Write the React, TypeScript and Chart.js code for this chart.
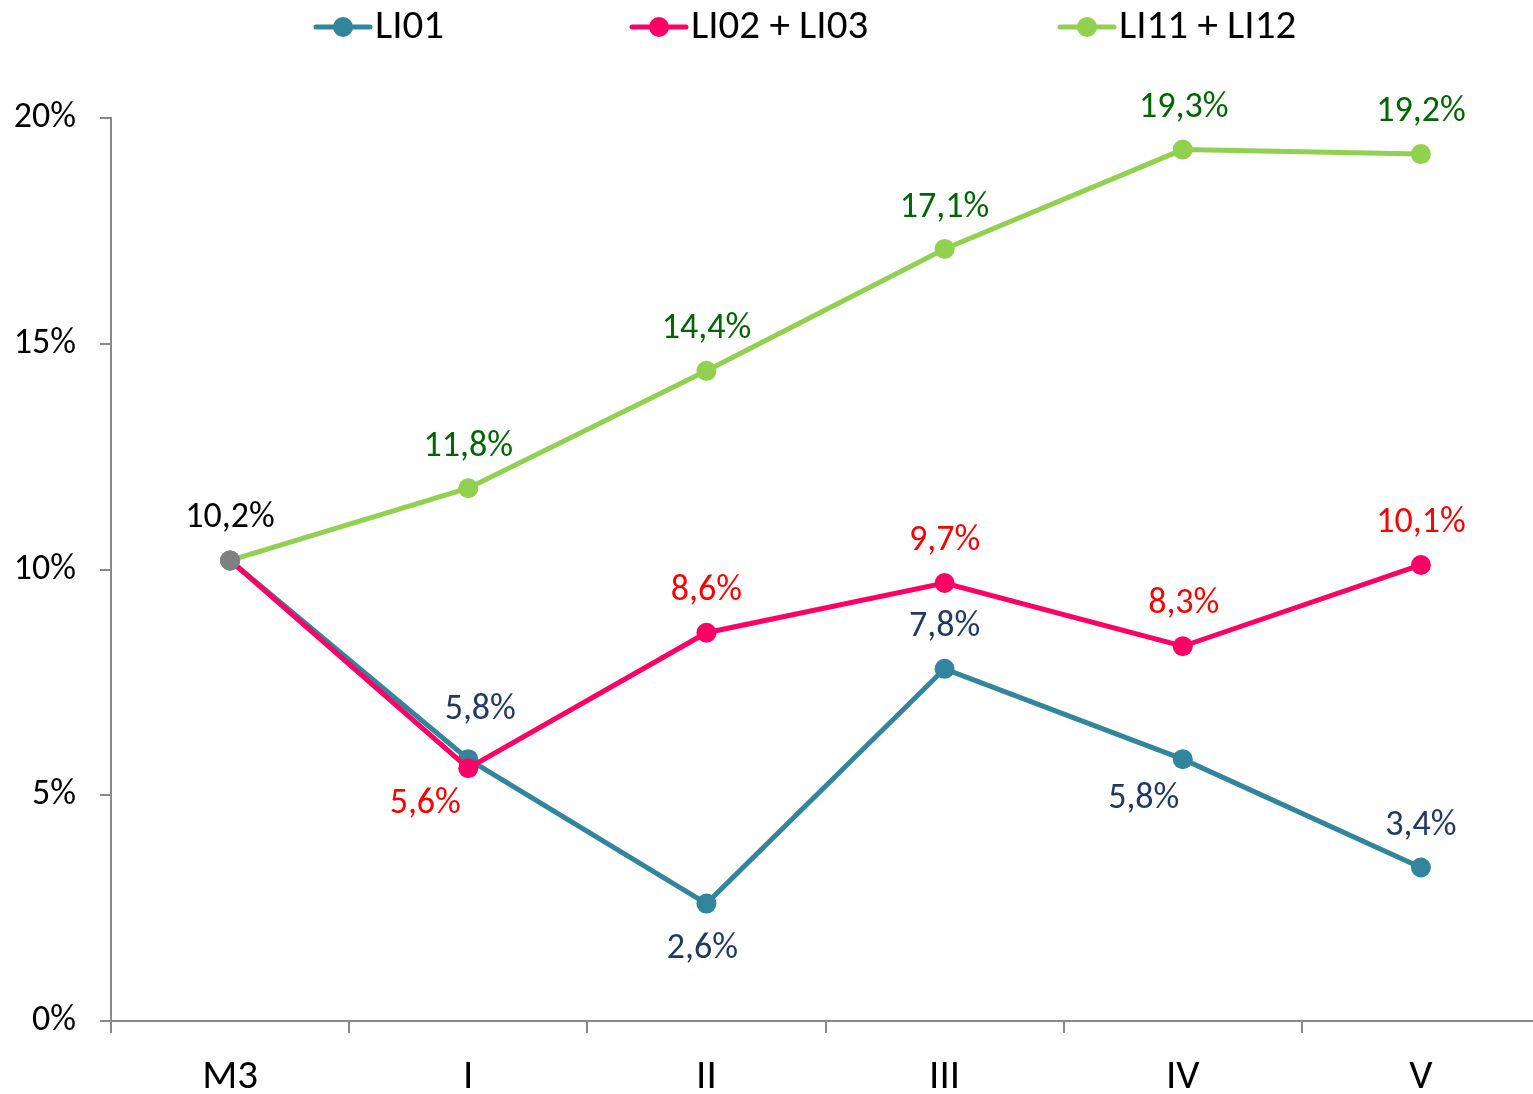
import { useEffect, useRef } from 'react';
import { Chart, registerables } from 'chart.js';

Chart.register(...registerables);

// ---- data ----
const categories = ['M3', 'I', 'II', 'III', 'IV', 'V'];
const seriesNames = ['LI01', 'LI02 + LI03', 'LI11 + LI12'];
const li01 = [10.2, 5.8, 2.6, 7.8, 5.8, 3.4];
const li0203 = [10.2, 5.6, 8.6, 9.7, 8.3, 10.1];
const li1112 = [10.2, 11.8, 14.4, 17.1, 19.3, 19.2];
const yTickValues = [0, 5, 10, 15, 20];

// ---- styles ----
const W = 1550;
const H = 1094;
const FONT = 'Carlito, Lato, "Open Sans", sans-serif';
const GRAY_POINT = '#808080';
const AXIS = '#898989';
const LINE_COLORS = ['#31859C', '#FF0066', '#92D050'];
const LABEL_COLORS = ['#1F3864', '#FF0000', '#006600'];
// label offsets relative to point (dx, dy); null = no label
const LABEL_OFFSETS: (number[] | null)[][] = [
  [null, [12, -49], [-4, 45], [0, -42], [-39, 40], [0, -41]],
  [null, [-43, 36], [0, -42], [0, -42], [1, -42], [0, -42]],
  [[0, -42], [0, -41], [0, -42], [0, -41], [1, -42], [0, -42]],
];
const LEGEND_X = [316, 632, 1060];
const LEGEND_Y = 27;

const fmt = (v: number) => v.toFixed(1).replace('.', ',') + '%';

const pointLabels = {
  id: 'pointLabels',
  afterDatasetsDraw(chart: any) {
    const ctx = chart.ctx;
    chart.data.datasets.forEach((ds: any, di: number) => {
      const meta = chart.getDatasetMeta(di);
      meta.data.forEach((pt: any, i: number) => {
        const off = LABEL_OFFSETS[di][i];
        if (!off) return;
        ctx.save();
        ctx.font = `36px ${FONT}`;
        ctx.fillStyle = i === 0 ? '#000000' : LABEL_COLORS[di];
        ctx.textAlign = 'center';
        ctx.textBaseline = 'middle';
        ctx.fillText(fmt(ds.data[i]), pt.x + off[0], pt.y + off[1]);
        ctx.restore();
      });
    });
  },
};

const lineLegend = {
  id: 'lineLegend',
  afterDraw(chart: any) {
    const ctx = chart.ctx;
    chart.data.datasets.forEach((ds: any, di: number) => {
      const x0 = LEGEND_X[di];
      ctx.save();
      ctx.strokeStyle = LINE_COLORS[di];
      ctx.lineWidth = 5;
      ctx.lineCap = 'round';
      ctx.beginPath();
      ctx.moveTo(x0, LEGEND_Y);
      ctx.lineTo(x0 + 54, LEGEND_Y);
      ctx.stroke();
      ctx.fillStyle = LINE_COLORS[di];
      ctx.beginPath();
      ctx.arc(x0 + 27, LEGEND_Y, 10, 0, Math.PI * 2);
      ctx.fill();
      ctx.fillStyle = '#000000';
      ctx.font = `41px ${FONT}`;
      ctx.textAlign = 'left';
      ctx.textBaseline = 'middle';
      ctx.fillText(ds.label, x0 + 59, LEGEND_Y + 1);
      ctx.restore();
    });
  },
};

export default function App() {
  const ref = useRef<HTMLCanvasElement>(null);
  useEffect(() => {
    document.body.style.margin = '0';
    document.body.style.overflow = 'hidden';
    const values = [li01, li0203, li1112];
    const chart = new Chart(ref.current!, {
      type: 'line',
      data: {
        labels: categories,
        datasets: values.map((d, i) => ({
          label: seriesNames[i],
          data: d,
          borderColor: LINE_COLORS[i],
          backgroundColor: LINE_COLORS[i],
          borderWidth: 5,
          pointRadius: 10,
          pointBorderWidth: 0,
          pointBackgroundColor: categories.map((_, k) => (k === 0 ? GRAY_POINT : LINE_COLORS[i])),
          tension: 0,
          fill: false,
          order: 3 - i,
        })),
      },
      options: {
        responsive: false,
        animation: false,
        layout: { padding: { top: 118, right: 0, left: 0, bottom: 0 } },
        plugins: { legend: { display: false }, tooltip: { enabled: false } },
        scales: {
          x: {
            type: 'category',
            offset: true,
            grid: { offset: true, drawOnChartArea: false, drawTicks: true, tickLength: 12, color: AXIS, lineWidth: 2 },
            border: { display: true, color: AXIS, width: 2 },
            ticks: { font: { family: FONT, size: 41 }, color: '#000', padding: 20, maxRotation: 0, autoSkip: false },
            afterFit: (s: any) => { s.height = 73; },
          },
          y: {
            min: 0,
            max: 20,
            afterBuildTicks: (s: any) => { s.ticks = yTickValues.map((v) => ({ value: v })); },
            ticks: { font: { family: FONT, size: 36 }, color: '#000', padding: 24, callback: (v: any) => v + '%' },
            grid: { drawOnChartArea: false, drawTicks: true, tickLength: 11, color: AXIS, lineWidth: 2 },
            border: { display: true, color: AXIS, width: 2 },
            afterFit: (s: any) => { s.width = 111; },
          },
        },
      },
      plugins: [pointLabels, lineLegend],
    } as any);
    return () => chart.destroy();
  }, []);
  return (
    <div style={{ width: W, height: H, position: 'relative' }}>
      <canvas ref={ref} width={W} height={H} style={{ display: 'block', width: W, height: H }} />
    </div>
  );
}
